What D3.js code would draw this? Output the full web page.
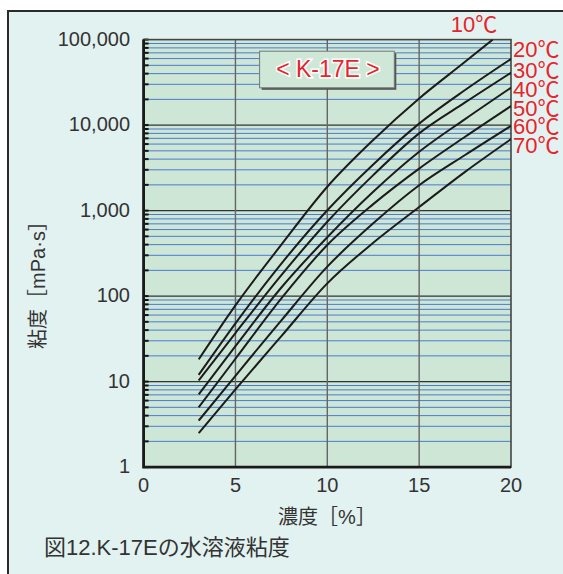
<!DOCTYPE html>
<html>
<head>
<meta charset="utf-8">
<script src="https://cdn.jsdelivr.net/npm/d3@7"></script>
<style>
  html, body { margin: 0; padding: 0; background: #fff; }
  svg { display: block; }
  text { font-family: "Liberation Sans", Arial, "Noto Sans CJK JP", sans-serif; }
</style>
</head>
<body>
<div id="chart"></div>
<script>
// K-17E aqueous solution viscosity vs concentration, one curve per temperature
const conc   = [3, 5, 7.5, 10, 12.5, 15, 17.5, 20];
const conc10 = [3, 5, 7.5, 10, 12.5, 15, 17.5, 19];   // 10℃ curve leaves the top at ~19%
const temps  = ["10℃", "20℃", "30℃", "40℃", "50℃", "60℃", "70℃"];

const visc10 = [18.2, 78, 400, 1900, 6700, 20500, 55000, 100000];
const visc20 = [12.0, 48, 240, 1010, 3470, 10400, 25700, 59300];
const visc30 = [10.3, 37, 176, 741, 2600, 8000, 18400, 41000];
const visc40 = [7.1, 26, 126, 488, 1660, 4870, 11760, 27400];
const visc50 = [5.0, 18.5, 94, 396, 1190, 3100, 7300, 16700];
const visc60 = [3.5, 11.7, 52, 221, 710, 1980, 4470, 9800];
const visc70 = [2.5, 8.1, 34, 141, 420, 1100, 2840, 6850];

const xTicks = [0, 5, 10, 15, 20];
const yTicks = [1, 10, 100, 1000, 10000, 100000];

const series = [
  { name: temps[0], xs: conc10, ys: visc10 },
  { name: temps[1], xs: conc, ys: visc20 },
  { name: temps[2], xs: conc, ys: visc30 },
  { name: temps[3], xs: conc, ys: visc40 },
  { name: temps[4], xs: conc, ys: visc50 },
  { name: temps[5], xs: conc, ys: visc60 },
  { name: temps[6], xs: conc, ys: visc70 },
];

const W = 563, H = 574;
const L = 143.6, R = 511, T = 39.6, B = 467.1;
const RED = "#e8232b";

const svg = d3.select("#chart").append("svg").attr("width", W).attr("height", H);

// outer panel
svg.append("rect")
  .attr("x", 8).attr("y", 11).attr("width", 580).attr("height", 600)
  .attr("fill", "#e2f2f0").attr("stroke", "#2b2b2b").attr("stroke-width", 2);

const x = d3.scaleLinear().domain([0, 20]).range([L, R]);
const y = d3.scaleLog().domain([1, 100000]).range([B, T]);

// plot background
svg.append("rect")
  .attr("x", L).attr("y", T).attr("width", R - L).attr("height", B - T)
  .attr("fill", "#cde6d5");

// minor horizontal lines (2..9 per decade)
const minors = [];
for (let k = 0; k < 5; k++) for (let m = 2; m <= 9; m++) minors.push(m * Math.pow(10, k));

svg.append("g").selectAll("line").data(minors).join("line")
  .attr("x1", L).attr("x2", R)
  .attr("y1", d => y(d)).attr("y2", d => y(d))
  .attr("stroke", "#4a7bd0").attr("stroke-width", 1);

// decade lines
svg.append("g").selectAll("line").data(yTicks.slice(1, -1)).join("line")
  .attr("x1", L).attr("x2", R)
  .attr("y1", d => y(d)).attr("y2", d => y(d))
  .attr("stroke", "#333").attr("stroke-width", 1.4);

// vertical grid
svg.append("g").selectAll("line").data(xTicks.slice(1, -1)).join("line")
  .attr("x1", d => x(d)).attr("x2", d => x(d))
  .attr("y1", T).attr("y2", B)
  .attr("stroke", "#666").attr("stroke-width", 1.4);

// left axis inner ticks
svg.append("g").selectAll("line").data(minors.concat(yTicks)).join("line")
  .attr("x1", L).attr("x2", L + 5)
  .attr("y1", d => y(d)).attr("y2", d => y(d))
  .attr("stroke", "#111").attr("stroke-width", 2);

// frame: thin top/right, heavy left/bottom
svg.append("rect")
  .attr("x", L).attr("y", T).attr("width", R - L).attr("height", B - T)
  .attr("fill", "none").attr("stroke", "#444").attr("stroke-width", 1.6);
svg.append("path")
  .attr("d", `M${L},${T}V${B}H${R}`)
  .attr("fill", "none").attr("stroke", "#1a1a1a").attr("stroke-width", 2.8);

// curves
svg.append("clipPath").attr("id", "plot-clip")
  .append("rect").attr("x", L).attr("y", T).attr("width", R - L).attr("height", B - T);

const line = d3.line()
  .x(d => x(d[0])).y(d => y(d[1]))
  .curve(d3.curveMonotoneX);

svg.append("g").attr("clip-path", "url(#plot-clip)")
  .selectAll("path").data(series).join("path")
  .attr("d", s => line(s.xs.map((v, i) => [v, s.ys[i]])))
  .attr("fill", "none").attr("stroke", "#1c1c1c").attr("stroke-width", 2);

// tick labels
svg.append("g").selectAll("text").data(yTicks).join("text")
  .attr("x", 130).attr("y", d => y(d) + 1)
  .attr("text-anchor", "end").attr("dominant-baseline", "middle")
  .attr("font-size", 20).attr("fill", "#333")
  .text(d => d3.format(",")(d));

svg.append("g").selectAll("text").data(xTicks).join("text")
  .attr("x", d => x(d)).attr("y", 487)
  .attr("text-anchor", "middle").attr("dominant-baseline", "middle")
  .attr("font-size", 20).attr("fill", "#333")
  .text(d => d);

// axis titles
svg.append("text")
  .attr("x", 327).attr("y", 519)
  .attr("text-anchor", "middle").attr("dominant-baseline", "middle")
  .attr("font-size", 20).attr("fill", "#333")
  .text("濃度［%］");

svg.append("text")
  .attr("transform", "translate(40,280) rotate(-90)")
  .attr("text-anchor", "middle").attr("dominant-baseline", "middle")
  .attr("font-size", 20).attr("fill", "#333")
  .text("粘度［mPa·s］");

svg.append("text")
  .attr("x", 44).attr("y", 549)
  .attr("dominant-baseline", "middle")
  .attr("font-size", 22).attr("fill", "#333")
  .text("図12.K-17Eの水溶液粘度");

// product label box
svg.append("rect")
  .attr("x", 261.6).attr("y", 53.2).attr("width", 134.7).attr("height", 36.6)
  .attr("fill", "#555");
svg.append("rect")
  .attr("x", 259.6).attr("y", 51.2).attr("width", 134.7).attr("height", 36.6)
  .attr("fill", "#cfe7d7").attr("stroke", "#777").attr("stroke-width", 1);
svg.append("text")
  .attr("x", 328).attr("y", 70.5)
  .attr("text-anchor", "middle").attr("dominant-baseline", "middle")
  .attr("font-size", 23).attr("fill", RED)
  .attr("stroke", "#fff").attr("stroke-width", 3).attr("paint-order", "stroke")
  .text("< K-17E >");

// temperature labels
const labelPos = [[474, 25.6, "middle"], [513, 50.5], [513, 71.4], [513, 89.7], [513, 108.7], [513, 127], [513, 146.4]];
svg.append("g").selectAll("text").data(series).join("text")
  .attr("x", (d, i) => labelPos[i][0]).attr("y", (d, i) => labelPos[i][1] + 1)
  .attr("text-anchor", (d, i) => labelPos[i][2] || "start")
  .attr("dominant-baseline", "middle")
  .attr("font-size", 22).attr("fill", RED)
  .text(d => d.name);
</script>
</body>
</html>
